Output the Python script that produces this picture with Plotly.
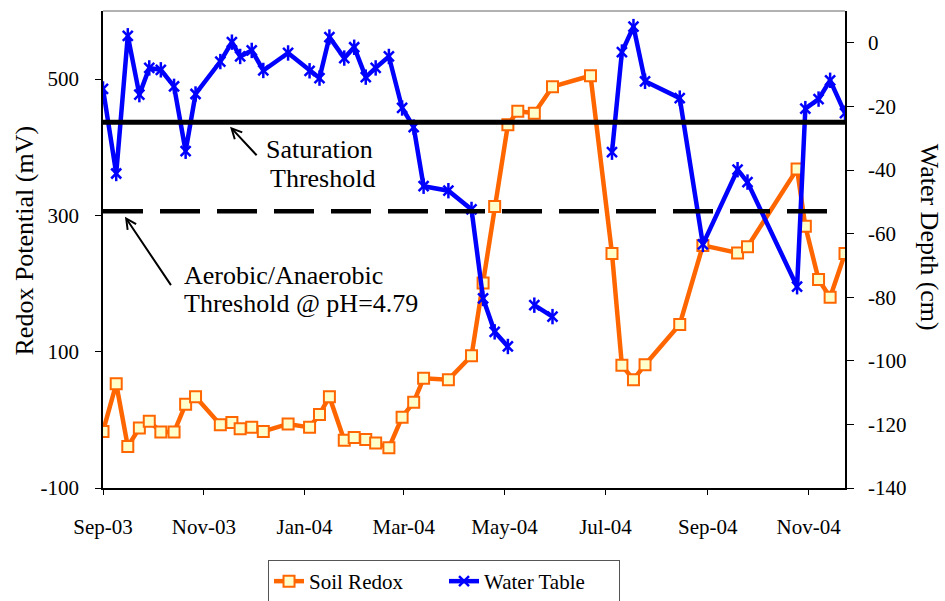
import plotly.graph_objects as go

dates = ["2003-09-01", "2003-09-09", "2003-09-16", "2003-09-23", "2003-09-29", "2003-10-06",
         "2003-10-14", "2003-10-21", "2003-10-27", "2003-11-11", "2003-11-18", "2003-11-23",
         "2003-11-30", "2003-12-07", "2003-12-22", "2004-01-04", "2004-01-10", "2004-01-16",
         "2004-01-25", "2004-01-31", "2004-02-07", "2004-02-13", "2004-02-21", "2004-02-29",
         "2004-03-07", "2004-03-13", "2004-03-28", "2004-04-11", "2004-04-18", "2004-04-25",
         "2004-05-03", "2004-05-09", "2004-05-19", "2004-05-30", "2004-06-22", "2004-07-05",
         "2004-07-11", "2004-07-18", "2004-07-25", "2004-08-15", "2004-08-29", "2004-09-19",
         "2004-09-25", "2004-10-25", "2004-10-30", "2004-11-07", "2004-11-14", "2004-11-23"]

soil_redox = [-17, 53, -39, -12, -2, -18, -18, 23, 34, -7, -4, -13, -11, -17, -6, -11, 8, 34,
              -30, -26, -29, -34, -41, 4, 26, 61, 59, 94, 201, 313, 433, 453, 450, 489, 505,
              244, 80, 59, 81, 140, 256, 245, 254, 368, 284, 206, 180, 244]

water_table = [-14.5, -41.1, 2.2, -16.3, -7.9, -8.5, -13.7, -34.1, -16.1, -5.9, 0.2, -4.3,
               -2.4, -8.7, -3.2, -8.8, -11.1, 1.8, -4.8, -1.4, -10.8, -7.9, -4.3, -20.5,
               -26.5, -45.1, -46.5, -52.4, -80.4, -90.9, -95.5, None, -82.5, -86.1, None,
               -34.4, -2.9, 5.1, -12.1, -17.4, -63.4, -39.9, -43.8, -76.7, -20.7, -17.7,
               -11.8, -22.1]

x_tick_vals = ["2003-09-01", "2003-11-01", "2004-01-01", "2004-03-01", "2004-05-01",
               "2004-07-01", "2004-09-01", "2004-11-01"]
x_tick_text = ["Sep-03", "Nov-03", "Jan-04", "Mar-04", "May-04", "Jul-04", "Sep-04", "Nov-04"]
y_left_ticks = [-100, 100, 300, 500]
y_left_text = ["-100", "100", "300", "500"]
y_right_ticks = [-140, -120, -100, -80, -60, -40, -20, 0]
y_right_text = ["-140", "-120", "-100", "-80", "-60", "-40", "-20", "0"]

saturation_depth = -25
aerobic_threshold = 306

FONT = "Liberation Serif"
ORANGE = "#FF6600"
BLUE = "#0000FF"

fig = go.Figure()
fig.add_trace(go.Scatter(
    x=dates, y=soil_redox, name="Soil Redox", mode="lines+markers",
    line=dict(color=ORANGE, width=4.5),
    marker=dict(symbol="square", size=11, color="#FFFFCC", line=dict(color=ORANGE, width=2)),
    yaxis="y"))
fig.add_trace(go.Scatter(
    x=dates, y=water_table, name="Water Table", mode="lines+markers",
    line=dict(color=BLUE, width=4.5),
    marker=dict(symbol="x-thin-open", size=10, color=BLUE, line=dict(color=BLUE, width=2.5)),
    yaxis="y2", connectgaps=False))
fig.add_trace(go.Scatter(
    x=dates, y=water_table, mode="markers", showlegend=False, hoverinfo="skip",
    marker=dict(symbol="line-ns-open", size=11, color=BLUE, line=dict(color=BLUE, width=2.5)),
    yaxis="y2"))

fig.update_layout(
    width=945, height=601,
    margin=dict(l=103, r=100, t=11, b=113),
    paper_bgcolor="white", plot_bgcolor="white",
    font=dict(family=FONT, size=21, color="black"),
    xaxis=dict(type="date", range=["2003-09-01", "2004-11-23"],
               tickvals=x_tick_vals, ticktext=x_tick_text,
               ticks="outside", ticklen=5, tickcolor="black",
               tickfont=dict(family=FONT, size=21, color="black"),
               showline=True, linecolor="black", linewidth=1.5,
               showgrid=False, zeroline=False, ticklabelstandoff=14, automargin=False),
    yaxis=dict(range=[-100, 600], tickvals=y_left_ticks, ticktext=y_left_text,
               ticks="outside", ticklen=6, tickcolor="black",
               tickfont=dict(family=FONT, size=21, color="black"),
               showline=True, linecolor="black", linewidth=1.5,
               showgrid=False, zeroline=False, ticklabelstandoff=12, automargin=False),
    yaxis2=dict(range=[-140, 10], tickvals=y_right_ticks, ticktext=y_right_text,
                overlaying="y", side="right",
                ticks="outside", ticklen=7, tickcolor="black",
                tickfont=dict(family=FONT, size=21, color="black"),
                showline=True, linecolor="black", linewidth=1.5,
                showgrid=False, zeroline=False, ticklabelstandoff=10, automargin=False),
    legend=dict(orientation="h", x=0.2224, y=(601 - 560) / 601, xanchor="left", yanchor="top",
                yref="container",
                bordercolor="#555555", borderwidth=1,
                font=dict(family=FONT, size=21, color="black"),
                entrywidth=130, entrywidthmode="pixels"),
    showlegend=True,
)

fig.add_shape(type="line", xref="paper", x0=0, x1=1, yref="y2",
              y0=saturation_depth, y1=saturation_depth,
              line=dict(color="black", width=5), layer="above")
fig.add_shape(type="line", xref="paper", x0=0, x1=0.995, yref="y",
              y0=aerobic_threshold, y1=aerobic_threshold,
              line=dict(color="black", width=4.5, dash="40px,17px"), layer="above")
fig.add_shape(type="line", xref="paper", yref="paper", x0=0, x1=1, y0=1, y1=1,
              line=dict(color="#999999", width=1.5))

# arrows
fig.add_annotation(xref="paper", yref="paper", x=0.1712, y=0.7574, ax=28, ay=30,
                   text="", showarrow=True, arrowhead=5, arrowsize=1, arrowwidth=2,
                   arrowcolor="black")
fig.add_annotation(xref="paper", yref="paper", x=0.0296, y=0.5688, ax=47, ay=70,
                   text="", showarrow=True, arrowhead=5, arrowsize=1, arrowwidth=2,
                   arrowcolor="black")

def txt(x_px, y_px, s, anchor="left", angle=0, size=26):
    fig.add_annotation(xref="paper", yref="paper",
                       x=(x_px - 103) / 742, y=(488 - y_px) / 477,
                       text=s, showarrow=False, xanchor=anchor, yanchor="middle",
                       textangle=angle, font=dict(family=FONT, size=size, color="black"))

txt(263.5, 149, "Saturation")
txt(268, 178, "Threshold")
txt(182, 275, "Aerobic/Anaerobic")
txt(182, 304, "Threshold @ pH=4.79")
txt(24, 240.5, "Redox Potential (mV)", anchor="center", angle=-90)
txt(929, 236.7, "Water Depth (cm)", anchor="center", angle=90)

fig.write_html("out.html", config={"displayModeBar": False},
               post_script="document.body.style.margin='0';")
